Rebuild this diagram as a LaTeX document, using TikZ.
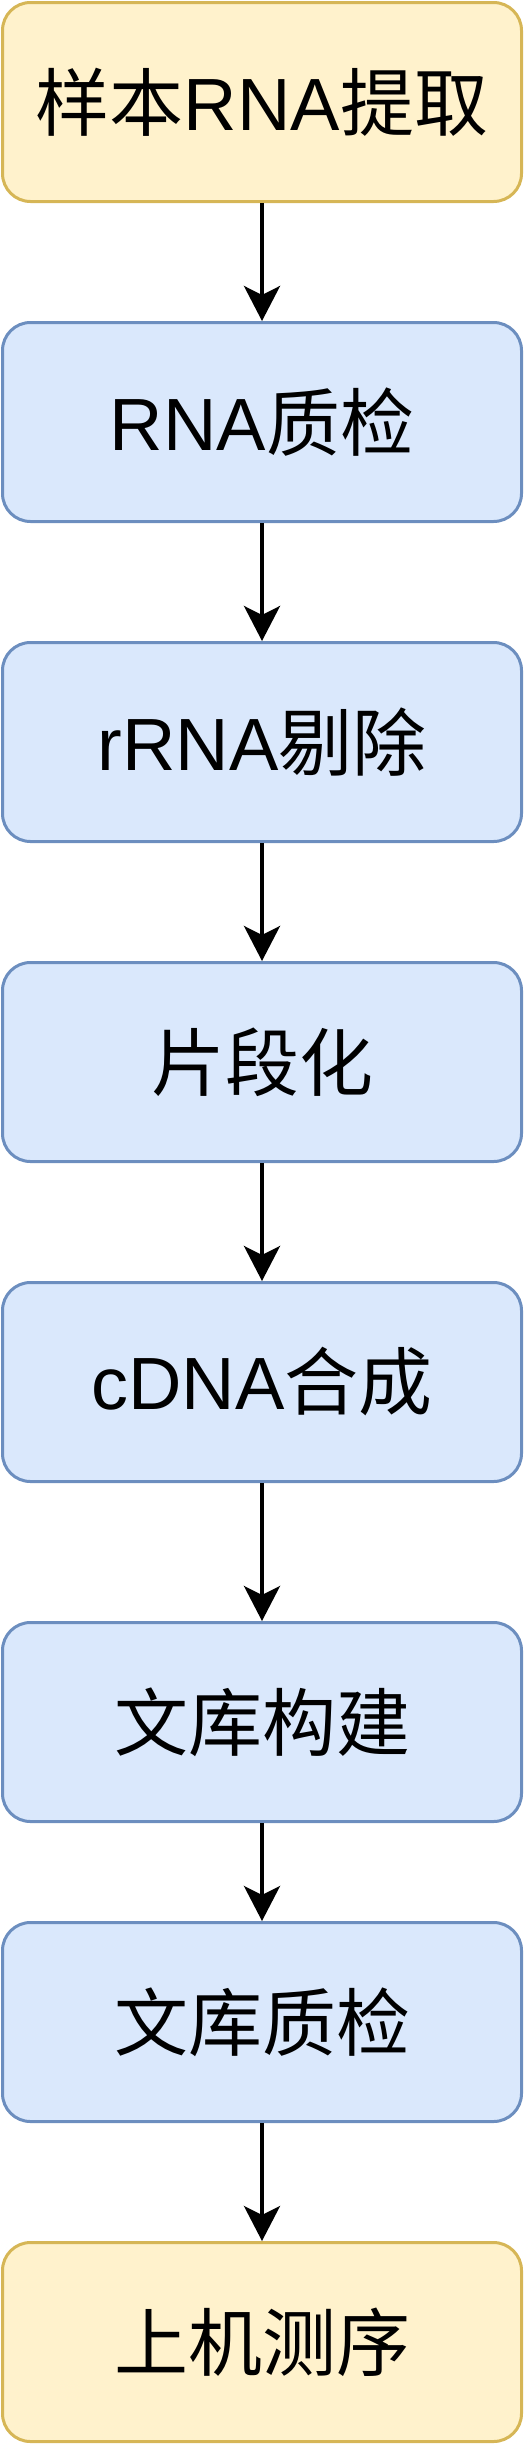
\documentclass[tikz,border=0pt]{standalone}
\usepackage{fontspec}
\setmainfont{Liberation Sans}
\newfontfamily\cjk{Noto Sans CJK SC}
\usetikzlibrary{arrows.meta}
\definecolor{yfill}{HTML}{FFF2CC}
\definecolor{ydraw}{HTML}{D6B656}
\definecolor{bfill}{HTML}{DAE8FC}
\definecolor{bdraw}{HTML}{6C8EBF}
\newcommand{\zh}[1]{{\cjk #1}}
\tikzset{
  box/.style={rectangle, rounded corners=28pt, line width=3pt,
    minimum width=519pt, minimum height=199pt, inner sep=0pt,
    font=\fontsize{74pt}{88pt}\selectfont},
  ybox/.style={box, fill=yfill, draw=ydraw},
  bbox/.style={box, fill=bfill, draw=bdraw},
  arr/.style={line width=4pt, -{Stealth[length=35pt,width=36pt,inset=9pt]}}
}
\begin{document}
\begin{tikzpicture}[x=1pt,y=-1pt]
\useasboundingbox (0,0) rectangle (524,2444);
\node[ybox] (b1) at (262,102) {\zh{样本}RNA\zh{提取}};
\node[bbox] (b2) at (262,422) {RNA\zh{质检}};
\node[bbox] (b3) at (262,742) {rRNA\zh{剔除}};
\node[bbox] (b4) at (262,1062) {\zh{片段化}};
\node[bbox] (b5) at (262,1382) {cDNA\zh{合成}};
\node[bbox] (b6) at (262,1722) {\zh{文库构建}};
\node[bbox] (b7) at (262,2022) {\zh{文库质检}};
\node[ybox] (b8) at (262,2342) {\zh{上机测序}};
\draw[arr] (b1) -- (b2);
\draw[arr] (b2) -- (b3);
\draw[arr] (b3) -- (b4);
\draw[arr] (b4) -- (b5);
\draw[arr] (b5) -- (b6);
\draw[arr] (b6) -- (b7);
\draw[arr] (b7) -- (b8);
\end{tikzpicture}
\end{document}
